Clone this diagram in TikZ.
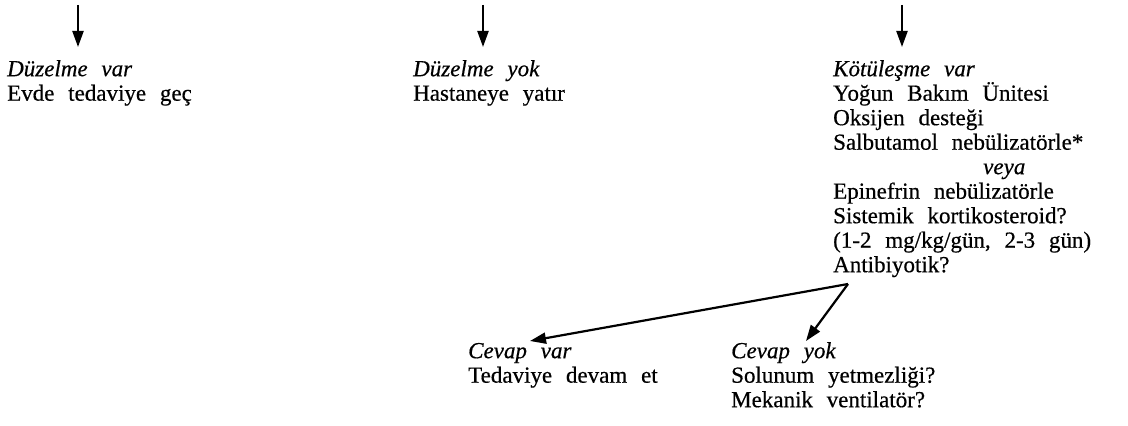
\documentclass[tikz,border=0pt]{standalone}
\usepackage{fontspec}
\setmainfont{Liberation Serif}[WordSpace=2.4,FakeBold=0.5]
\usetikzlibrary{arrows.meta}
\begin{document}
\begin{tikzpicture}[x=1pt,y=1pt,
  txt/.style={anchor=north west,inner sep=0pt,align=left,
    font=\fontsize{23}{24.5}\selectfont},
  arr/.style={line width=2.2pt,-{Triangle[length=16pt,width=11pt]}}]
\useasboundingbox (0,0) rectangle (1128,426);
\newcommand\fs{\rule{0pt}{21pt}}
% top blocks
\node[txt] (b1) at (7,371) {\fs\textit{Düzelme var}\\Evde tedaviye geç};
\node[txt] (b2) at (413,371) {\fs\textit{Düzelme yok}\\Hastaneye yatır};
\node[txt] (b3) at (833,371) {\fs\textit{Kötüleşme var}\\Yoğun Bakım Ünitesi\\Oksijen desteği\\Salbutamol nebülizatörle*\\\hspace{150pt}\textit{veya}\\Epinefrin nebülizatörle\\Sistemik kortikosteroid?\\(1-2 mg/kg/gün, 2-3 gün)\\Antibiyotik?};
% bottom blocks
\node[txt] (c1) at (468,89) {\fs\textit{Cevap var}\\Tedaviye devam et};
\node[txt] (c2) at (731,89) {\fs\textit{Cevap yok}\\Solunum yetmezliği?\\Mekanik ventilatör?};
% top arrows
\coordinate (s1) at (78,421);
\coordinate (s2) at (483,421);
\coordinate (s3) at (902,421);
\draw[arr,shorten >=8pt] (s1) -- (s1 |- b1.north);
\draw[arr,shorten >=8pt] (s2) -- (s2 |- b2.north);
\draw[arr,shorten >=8pt] (s3) -- (s3 |- b3.north);
% bottom arrows
\coordinate (ap) at (848,142);
\draw[arr] (ap) -- ([xshift=62pt,yshift=-4pt]c1.north west);
\draw[arr] (ap) -- ([xshift=75pt,yshift=-4pt]c2.north west);
\end{tikzpicture}
\end{document}
